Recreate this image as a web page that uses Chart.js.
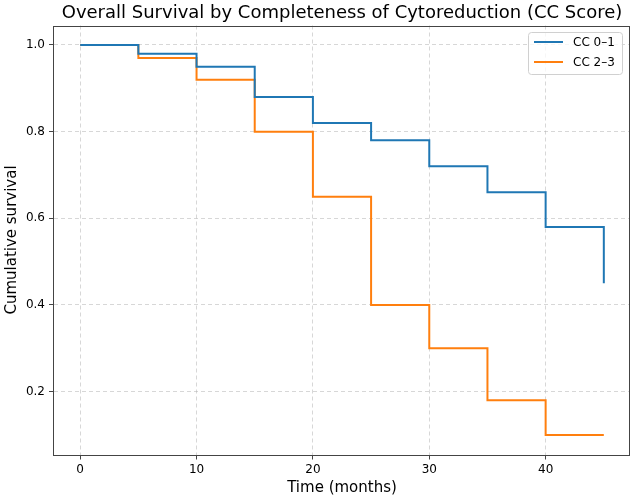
<!DOCTYPE html>
<html>
<head>
<meta charset="utf-8">
<script src="https://cdn.jsdelivr.net/npm/chart.js@4"></script>
<style>
  html, body { margin: 0; padding: 0; background: #fff; }
  #wrap { width: 635px; height: 500px; position: relative; }
</style>
</head>
<body>
<div id="wrap"><canvas id="c" width="635" height="500"></canvas></div>
<script>
// ---- Data ----
const times = [0, 5, 10, 15, 20, 25, 30, 35, 40, 45];
const survCC01 = [1.0, 0.98, 0.95, 0.88, 0.82, 0.78, 0.72, 0.66, 0.58, 0.45];
const survCC23 = [1.0, 0.97, 0.92, 0.80, 0.65, 0.40, 0.30, 0.18, 0.10, 0.10];
const seriesLabels = ["CC 0–1", "CC 2–3"];
const xTicks = [0, 10, 20, 30, 40];
const yTicks = [0.2, 0.4, 0.6, 0.8, 1.0];
const titleText = "Overall Survival by Completeness of Cytoreduction (CC Score)";
const xTitle = "Time (months)";
const yTitle = "Cumulative survival";

const FONT = "'DejaVu Sans', sans-serif";
const colors = ["#1f77b4", "#ff7f0e"];

const toPts = (ys) => times.map((t, i) => ({ x: t, y: ys[i] }));

const decor = {
  id: 'decor',
  afterDraw(chart) {
    const ctx = chart.ctx;
    const a = chart.chartArea;
    ctx.save();
    ctx.setLineDash([]);
    // frame (spines)
    const L = Math.round(a.left), R = Math.round(a.right), T = Math.round(a.top), B = Math.round(a.bottom);
    ctx.fillStyle = '#444';
    ctx.fillRect(L - 1, T, 1, B - T + 1);
    ctx.fillRect(R - 1, T, 1, B - T + 1);
    ctx.fillRect(L - 1, T, R - L + 1, 1);
    ctx.fillRect(L - 1, B, R - L + 1, 1);
    // title (centered over axes)
    ctx.fillStyle = '#000';
    ctx.font = "18px " + FONT;
    ctx.textAlign = 'center';
    ctx.textBaseline = 'middle';
    ctx.fillText(titleText, (a.left + a.right) / 2, 13);
    // axis titles
    ctx.font = "15px " + FONT;
    ctx.fillText(xTitle, (a.left + a.right) / 2, 488);
    ctx.save();
    ctx.translate(12, (a.top + a.bottom) / 2);
    ctx.rotate(-Math.PI / 2);
    ctx.fillText(yTitle, 0, 0);
    ctx.restore();
    // legend
    const bx = 528.5, by = 32.5, bw = 94, bh = 42;
    ctx.fillStyle = 'rgba(255,255,255,0.8)';
    ctx.strokeStyle = '#d0d0d0';
    ctx.lineWidth = 1;
    ctx.beginPath();
    if (ctx.roundRect) ctx.roundRect(bx, by, bw, bh, 3); else ctx.rect(bx, by, bw, bh);
    ctx.fill();
    ctx.stroke();
    ctx.font = "12px " + FONT;
    ctx.textAlign = 'left';
    ctx.textBaseline = 'middle';
    chart.data.datasets.forEach((ds, i) => {
      const yy = 42 + i * 20;
      ctx.strokeStyle = ds.borderColor;
      ctx.lineWidth = 2;
      ctx.beginPath();
      ctx.moveTo(534, yy);
      ctx.lineTo(563, yy);
      ctx.stroke();
      ctx.fillStyle = '#000';
      ctx.fillText(ds.label, 573, yy + 0.5);
    });
    ctx.restore();
  }
};

new Chart(document.getElementById('c'), {
  type: 'line',
  data: {
    datasets: [
      { label: seriesLabels[0], data: toPts(survCC01), borderColor: colors[0], backgroundColor: colors[0],
        borderWidth: 2, stepped: 'before', pointRadius: 0, fill: false },
      { label: seriesLabels[1], data: toPts(survCC23), borderColor: colors[1], backgroundColor: colors[1],
        borderWidth: 2, stepped: 'before', pointRadius: 0, fill: false }
    ]
  },
  options: {
    responsive: false,
    animation: false,
    devicePixelRatio: 1,
    layout: { padding: { top: 25.5, right: 5, left: 0, bottom: 0 } },
    plugins: { legend: { display: false }, title: { display: false }, tooltip: { enabled: false } },
    scales: {
      x: {
        type: 'linear',
        min: -2.25, max: 47.25,
        afterBuildTicks: (s) => { s.ticks = xTicks.map(v => ({ value: v })); },
        afterFit: (s) => { s.height = 45.5; },
        grid: { color: 'rgba(176,176,176,0.5)', lineWidth: 1, tickLength: 5, tickColor: '#444', tickWidth: 1 },
        border: { display: false, dash: [4, 3] },
        ticks: { font: { family: FONT, size: 12 }, color: '#000', padding: 3, maxRotation: 0,
                 callback: (v) => String(v) }
      },
      y: {
        type: 'linear',
        min: 0.055, max: 1.045,
        afterBuildTicks: (s) => { s.ticks = yTicks.map(v => ({ value: v })); },
        afterFit: (s) => { s.width = 54; },
        grid: { color: 'rgba(176,176,176,0.5)', lineWidth: 1, tickLength: 5, tickColor: '#444', tickWidth: 1 },
        border: { display: false, dash: [4, 3] },
        ticks: { font: { family: FONT, size: 12 }, color: '#000', padding: 4,
                 callback: (v) => Number(v).toFixed(1) }
      }
    }
  },
  plugins: [decor]
});
</script>
</body>
</html>
